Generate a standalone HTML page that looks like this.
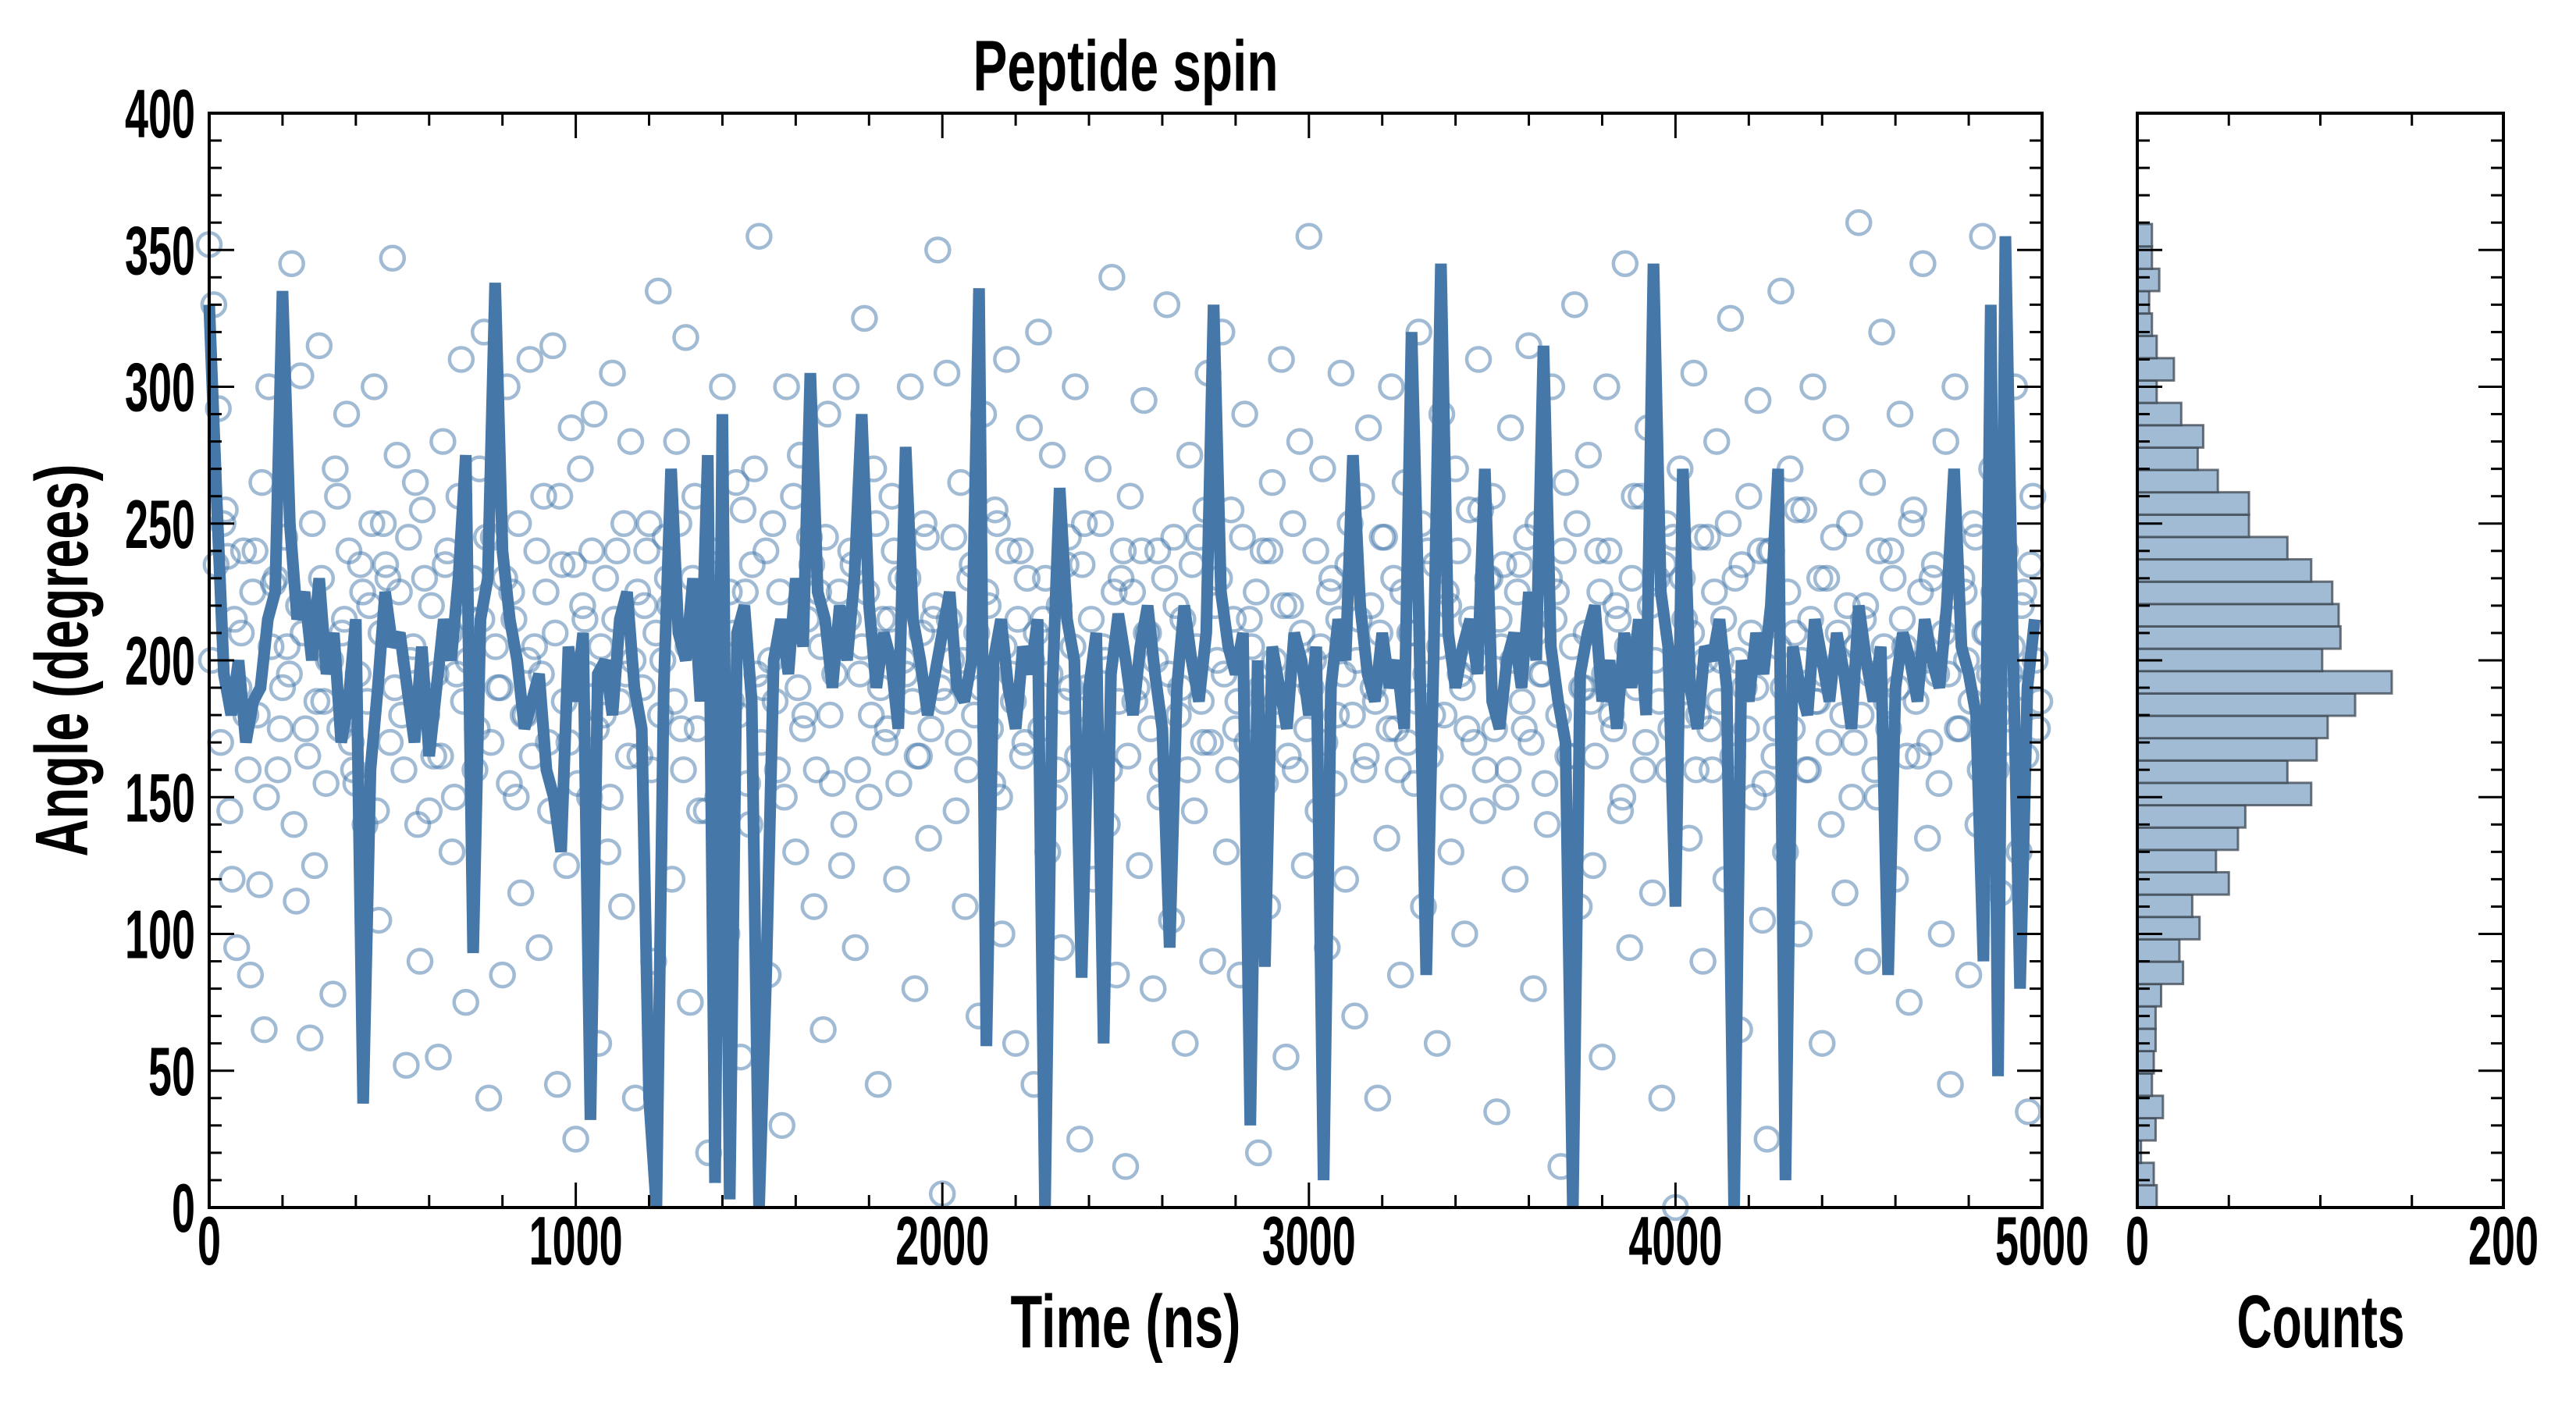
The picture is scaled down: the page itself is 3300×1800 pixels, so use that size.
<!DOCTYPE html>
<html><head><meta charset="utf-8"><style>
html,body{margin:0;padding:0;background:#fff;}
svg{display:block;}
text{font-family:"Liberation Sans Narrow","Liberation Sans",sans-serif;font-weight:bold;fill:#000;}
</style></head>
<body>
<svg id="chart" width="3300" height="1800" viewBox="0 0 3300 1800" xmlns="http://www.w3.org/2000/svg">
<g id="main-marks"></g>
<g id="hist-marks"></g>
<g id="axes"></g>
<text x="1442" y="116" font-size="92" text-anchor="middle" textLength="391" lengthAdjust="spacingAndGlyphs">Peptide spin</text>
<text x="1442" y="1726" font-size="96" text-anchor="middle" textLength="295" lengthAdjust="spacingAndGlyphs">Time (ns)</text>
<text x="2973" y="1726" font-size="96" text-anchor="middle" textLength="215" lengthAdjust="spacingAndGlyphs">Counts</text>
<text transform="translate(112,846) rotate(-90)" x="0" y="0" font-size="96" text-anchor="middle" textLength="503" lengthAdjust="spacingAndGlyphs">Angle (degrees)</text>
</svg>
<script>
const lineStep = 20;
const lineAngles = [
330,260,195,180,200,170,185,190,215,225,
335,250,215,225,200,230,195,210,170,185,
215,38,160,190,225,205,210,190,170,205,
165,190,215,200,230,275,93,215,230,338,
240,215,200,175,185,195,160,150,130,205,
185,210,32,195,200,180,215,225,190,175,
40,0,190,270,210,200,230,185,275,9,
290,3,210,220,185,0,88,200,215,195,
230,205,305,225,215,190,220,200,230,290,
220,190,210,200,175,278,215,200,180,195,
210,225,190,185,200,336,59,200,215,190,
175,205,195,215,0,190,263,215,200,84,
190,210,60,195,217,200,180,205,220,195,
175,95,190,220,200,185,210,330,225,205,
195,210,30,200,88,205,190,175,210,200,
180,205,10,190,215,200,275,220,195,185,
210,190,200,175,320,215,85,200,345,210,
190,205,215,195,270,185,175,200,210,190,
225,200,315,205,185,170,0,195,210,220,
185,200,175,210,190,215,180,345,225,205,
110,270,190,175,205,200,215,190,0,200,
185,210,195,220,270,10,205,190,180,215,
200,185,210,195,175,220,200,185,205,85,
190,210,200,185,215,200,190,220,270,205,
195,180,90,330,48,355,210,80,190,215];
const scatterStep = 12.5;
const scatterAngles = [
352,330,292,250,238,120,95,210,180,85,240,118,65,300,228,160,190,205,345,112,
304,175,62,125,315,185,200,78,260,210,290,170,155,235,140,220,300,105,250,230,
347,275,180,52,200,265,90,230,145,165,55,280,240,130,195,310,75,215,160,270,
320,40,245,190,85,300,225,150,115,180,310,205,95,260,170,315,45,235,125,285,
25,270,215,150,290,60,180,130,305,240,110,195,280,40,165,220,250,90,335,200,
230,120,280,175,318,75,260,145,205,20,235,150,300,100,185,265,55,225,140,270,
355,190,85,250,160,30,300,210,130,275,180,245,110,225,65,290,155,205,125,300,
240,95,195,325,150,270,45,215,175,260,120,230,195,300,80,165,250,135,215,350,
5,305,200,145,265,110,230,180,70,290,220,155,250,100,310,195,60,240,170,285,
45,320,215,130,275,160,95,235,190,300,25,250,175,120,270,205,140,340,85,230,
15,260,185,125,295,210,80,240,160,330,105,220,190,60,275,145,245,170,305,90,
200,320,130,255,175,85,290,215,150,20,240,110,265,185,310,55,220,160,280,125,
355,200,145,270,95,230,180,305,120,250,70,215,160,285,190,40,245,135,300,175,
85,265,210,155,320,110,240,180,60,290,225,130,270,195,100,255,170,310,145,230,
260,35,205,150,285,120,235,175,315,80,250,195,140,300,225,15,265,165,330,110,
190,275,125,240,55,300,180,220,145,345,95,260,205,160,285,115,230,40,250,175,
0,270,215,135,305,180,90,245,160,280,200,120,325,230,65,190,260,150,295,105,
25,240,175,335,130,270,210,100,255,160,300,185,60,230,140,285,200,115,250,170,
360,215,90,265,150,320,185,240,120,290,205,75,255,165,345,135,230,195,100,280,
45,300,175,225,85,250,140,355,210,270,160,115,240,195,300,130,225,35,260,175];
const scatterAngles2 = [
200,235,170,255,145,215,190,240,160,225,180,265,150,205,230,175,245,195,140,220,
210,165,250,185,230,155,200,270,175,215,240,160,195,225,185,250,145,210,235,170,
190,225,160,245,205,140,255,180,220,195,165,235,210,150,260,185,200,230,175,215,
245,170,205,190,230,155,215,250,180,200,165,240,195,225,145,210,260,185,170,235,
155,220,195,240,175,205,230,150,215,185,250,165,200,225,190,240,160,210,180,245,
220,185,250,160,205,230,175,215,145,200,240,190,165,225,210,180,255,155,235,195,
170,240,200,185,225,150,210,260,190,175,215,235,160,205,245,180,195,225,140,215,
235,160,205,225,180,250,190,170,215,240,155,200,230,185,165,210,245,175,220,190,
185,215,245,170,200,160,235,210,190,225,175,255,150,205,240,185,215,165,230,200,
210,175,230,195,150,220,185,245,205,165,235,190,215,170,250,200,160,225,185,240,
165,225,190,240,210,175,200,150,230,195,245,180,215,160,235,205,185,255,170,220,
230,195,160,215,185,245,170,205,225,190,155,240,200,180,220,165,250,195,210,175,
190,240,205,170,225,155,215,195,235,180,200,260,165,220,185,210,245,175,230,160,
225,170,210,185,250,195,165,235,205,180,220,150,240,190,175,215,200,255,160,230,
175,215,235,160,200,225,185,245,170,210,195,155,230,215,180,240,165,205,250,190,
210,185,165,225,195,240,175,215,150,205,230,190,260,170,220,200,185,235,160,245,
195,230,180,210,160,245,200,175,225,185,215,250,165,200,235,175,210,190,240,155,
240,165,205,190,225,175,255,200,160,215,185,230,195,170,245,210,180,220,150,205,
180,220,195,160,240,205,175,230,190,215,165,250,185,225,200,170,235,155,210,195,
215,175,230,200,185,245,160,210,195,225,180,240,170,205,190,220,165,235,200,185];
const histBinStart = 0;
const histBinWidth = 8.17;
const histCounts = [10.6,9,2,10,14,8,9,10,10,13,25,23,34,30,50,43,55,59,95,82,98,104,119,139,101,111,110,106.5,95,82,61,61,44,33,36,24,10.6,20,10.6,8,6.5,12,8,8];
const xTicks = [0,1000,2000,3000,4000,5000];
const yTicks = [0,50,100,150,200,250,300,350,400];
const histTicks = [0,200];

const NS='http://www.w3.org/2000/svg';
const L=268,R=2616,T=145,B=1547,HL=2738,HR=3207;
const xs=t=>L+(t/5000)*(R-L);
const ys=a=>B-(a/400)*(B-T);
const hx=c=>HL+(c/200)*(HR-HL);
function mk(tag,attrs,parent){const e=document.createElementNS(NS,tag);for(const k in attrs)e.setAttribute(k,attrs[k]);parent.appendChild(e);return e;}
const main=document.getElementById('main-marks');
const hist=document.getElementById('hist-marks');
const axes=document.getElementById('axes');

function dot(t,a){
  const c=mk('circle',{cx:xs(t),cy:ys(a),r:15,fill:'none',stroke:'#4477aa','stroke-opacity':0.5,'stroke-width':4.5},main);
  
  
}
scatterAngles.forEach((a,i)=>dot(i*scatterStep,a));
scatterAngles2.forEach((a,i)=>dot(i*scatterStep+scatterStep/2,a));
const pts=lineAngles.map((a,i)=>xs(i*lineStep).toFixed(1)+','+ys(a).toFixed(1)).join(' ');
const pl=mk('polyline',{points:pts,fill:'none',stroke:'#4577a9','stroke-width':15,'stroke-linejoin':'miter','stroke-miterlimit':2},main);


histCounts.forEach((c,i)=>{
  const a0=histBinStart+i*histBinWidth,a1=a0+histBinWidth;
  const r=mk('rect',{x:HL,y:ys(a1),width:hx(c)-HL,height:ys(a0)-ys(a1),fill:'#a1bbd4',stroke:'#3c4650','stroke-opacity':0.75,'stroke-width':3},hist);
  
  
});
[[L,R],[HL,HR]].forEach(([l,r],k)=>{
  const s=mk('rect',{x:l,y:T,width:r-l,height:B-T,fill:'none',stroke:'#000','stroke-width':4},axes);
  
  
});
function tick(x1,y1,x2,y2){mk('line',{x1,y1,x2,y2,stroke:'#000','stroke-width':3},axes);}
for(let t=0;t<=5000;t+=200){const x=xs(t),len=t%1000===0?32:16;tick(x,B,x,B-len);tick(x,T,x,T+len);}
for(let a=0;a<=400;a+=10){const y=ys(a),len=a%50===0?32:16;
  tick(L,y,L+len,y);tick(R,y,R-len,y);tick(HL,y,HL+len,y);tick(HR,y,HR-len,y);}
for(let c=0;c<=200;c+=50){const x=hx(c),len=c%200===0?32:16;tick(x,B,x,B-len);tick(x,T,x,T+len);}
function lbl(txt,x,y,anchor,name){
  const e=mk('text',{x,y,'font-size':88,'text-anchor':anchor,textLength:30*txt.length,lengthAdjust:'spacingAndGlyphs'},axes);
  e.textContent=txt;
  
  
}
xTicks.forEach(t=>lbl(String(t),xs(t),1620,'middle','x-tick-label'));
yTicks.forEach(a=>lbl(String(a),250,ys(a)+31,'end','y-tick-label'));
histTicks.forEach(c=>lbl(String(c),hx(c),1620,'middle','histogram-tick-label'));
</script>
</body></html>
